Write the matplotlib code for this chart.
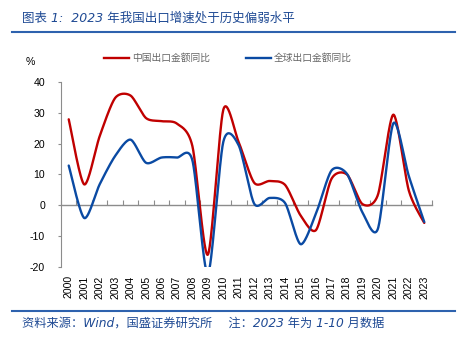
import numpy as np
import matplotlib
matplotlib.use("Agg")
import matplotlib.pyplot as plt
from matplotlib.lines import Line2D
import matplotlib.transforms as mtransforms

years = [str(y) for y in range(2000, 2024)]
china = [27.9, 6.8, 22.4, 34.8, 35.6, 28.3, 27.3, 26.5, 19.2, -16.0, 31.0, 20.4,
         7.3, 7.9, 6.6, -3.3, -8.0, 8.6, 10.0, 0.4, 3.4, 29.4, 4.8, -5.7]
world = [12.9, -4.1, 6.8, 16.0, 21.3, 13.8, 15.5, 15.5, 14.6, -22.3, 20.6, 19.4,
         0.5, 2.4, 0.7, -12.6, -2.6, 11.3, 10.2, -2.3, -7.6, 26.6, 9.5, -5.4]
series_names = ["中国出口金额同比", "全球出口金额同比"]
yticks = [-20, -10, 0, 10, 20, 30, 40]

RED = "#C00000"
BLUE = "#0A4AA3"
TITLE_BLUE = "#1F4A94"
RULE_BLUE = "#2E62AE"
GRAY = "#8C8C8C"


def smooth(xs, ys, n=30, k=1 / 7.5):
    # smoothed line: cubic Bezier segments with Catmull-Rom style control points
    xs = np.asarray(xs, float)
    ys = np.asarray(ys, float)
    P = np.column_stack([xs, ys])
    out = []
    for i in range(len(P) - 1):
        p0 = P[i - 1] if i > 0 else P[i]
        p1 = P[i]
        p2 = P[i + 1]
        p3 = P[i + 2] if i + 2 < len(P) else P[i + 1]
        c1 = p1 + (p2 - p0) * k
        c2 = p2 - (p3 - p1) * k
        t = np.linspace(0, 1, n, endpoint=(i == len(P) - 2))[:, None]
        seg = ((1 - t) ** 3) * p1 + 3 * ((1 - t) ** 2) * t * c1 + 3 * (1 - t) * t ** 2 * c2 + t ** 3 * p2
        out.append(seg)
    out = np.vstack(out)
    return out[:, 0], out[:, 1]


plt.rcParams["font.family"] = ["Liberation Sans", "Noto Sans CJK SC", "DejaVu Sans"]

fig = plt.figure(figsize=(4.63, 3.43), dpi=100)
ax = fig.add_axes([61 / 463, 1 - 267 / 343, (432 - 61) / 463, (267 - 82) / 343])

x = np.arange(len(years))
for vals, col in ((china, RED), (world, BLUE)):
    sx, sy = smooth(x, vals)
    ax.plot(sx, sy, color=col, lw=1.7, solid_capstyle="round", zorder=3)

ax.set_xlim(-0.5, len(years) - 0.5)
ax.set_ylim(-20, 40)
ax.set_yticks(yticks)
ax.set_yticklabels([str(v) for v in yticks], fontsize=7.6)
ax.tick_params(axis="y", direction="out", length=2.5, width=0.8, color=GRAY, pad=9)

for s in ("top", "right"):
    ax.spines[s].set_visible(False)
ax.spines["left"].set_color(GRAY)
ax.spines["left"].set_linewidth(0.8)
ax.spines["bottom"].set_position(("data", 0))
ax.spines["bottom"].set_color(GRAY)
ax.spines["bottom"].set_linewidth(1.0)
ax.spines["bottom"].set_zorder(2)

ax.set_xticks(np.arange(len(years) + 1) - 0.5)
ax.set_xticklabels([])
ax.tick_params(axis="x", direction="in", length=3.5, width=0.8, color=GRAY)

trans = mtransforms.blended_transform_factory(ax.transData, ax.transAxes)
for i, yr in enumerate(years):
    ax.text(i, -0.045, yr, transform=trans, rotation=90, ha="center", va="top",
            fontsize=7.6, color="black")

# "%" unit label
fig.text(30 / 463, 1 - 62 / 343, "%", ha="center", va="center", fontsize=7.6)

# legend
handles = [Line2D([], [], color=RED, lw=1.7), Line2D([], [], color=BLUE, lw=1.7)]
leg = fig.legend(handles, series_names, loc="center", bbox_to_anchor=(228 / 463, 1 - 58 / 343),
                 ncol=2, frameon=False, handlelength=2.6, handletextpad=0.35,
                 columnspacing=3.6, prop={"family": ["Noto Sans CJK SC"], "size": 7})
for t in leg.get_texts():
    t.set_color("#666666")

# title and rules
fig.text(22 / 463, 1 - 18 / 343, "图表 1:  2023 年我国出口增速处于历史偏弱水平",
         ha="left", va="center", fontsize=9, color=TITLE_BLUE,
         family=["DejaVu Sans", "Noto Sans CJK SC"], style="italic")
fig.add_artist(Line2D([12 / 463, 455 / 463], [1 - 32 / 343, 1 - 32 / 343],
                      color=RULE_BLUE, lw=1.5, transform=fig.transFigure))
fig.add_artist(Line2D([12 / 463, 455 / 463], [1 - 311 / 343, 1 - 311 / 343],
                      color=RULE_BLUE, lw=1.5, transform=fig.transFigure))
fig.text(22 / 463, 1 - 323 / 343, "资料来源：Wind，国盛证券研究所　 注：2023 年为 1-10 月数据",
         ha="left", va="center", fontsize=8.8, color=TITLE_BLUE,
         family=["DejaVu Sans", "Noto Sans CJK SC"], style="italic")

fig.savefig("out.png", dpi=100)
